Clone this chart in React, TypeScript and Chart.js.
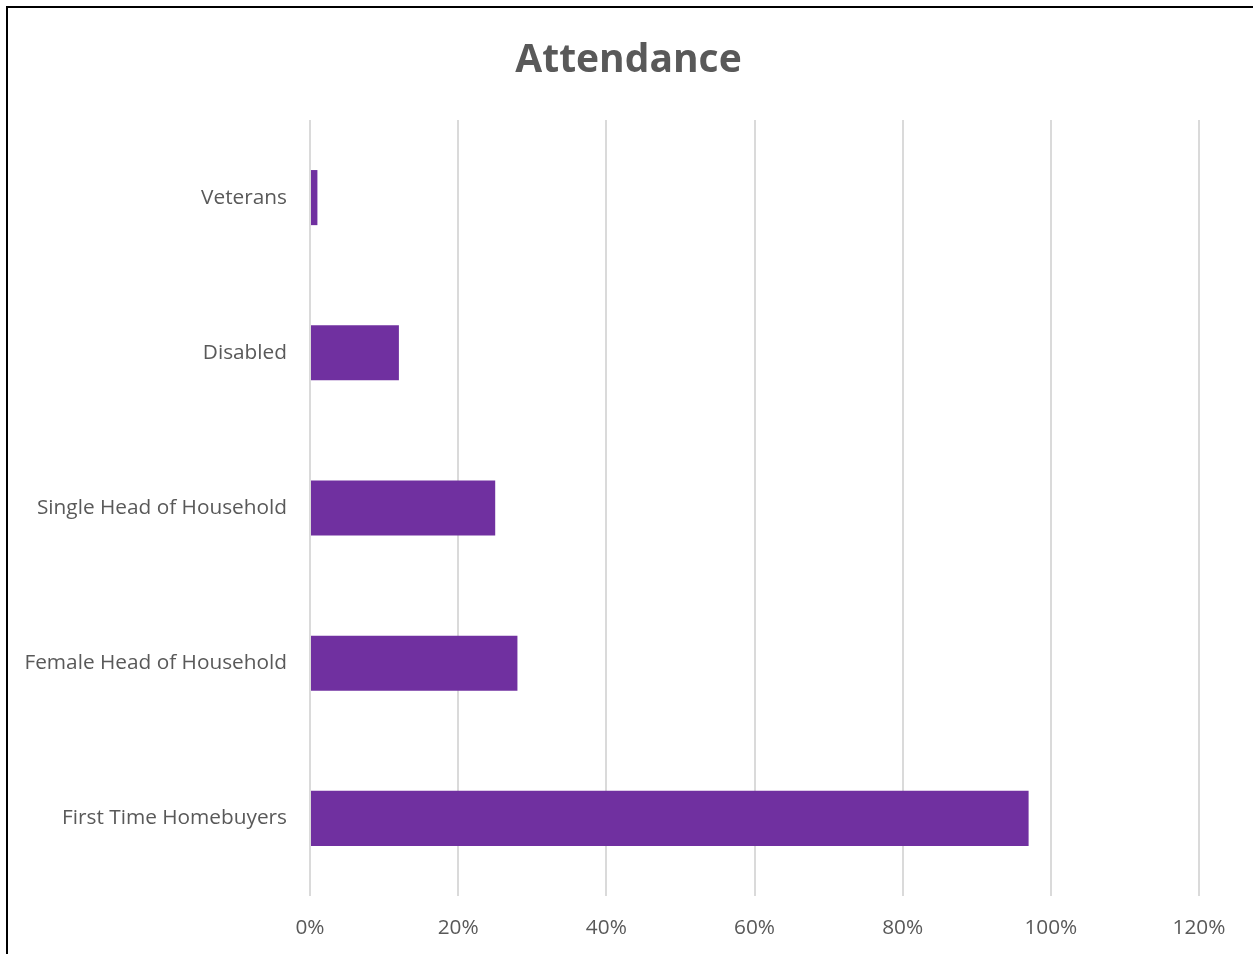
import React, { useEffect, useRef } from "react";
import { Chart, registerables } from "chart.js";

Chart.register(...registerables);

const categories = [
  "Veterans",
  "Disabled",
  "Single Head of Household",
  "Female Head of Household",
  "First Time Homebuyers",
];
const attendance = [1, 12, 25, 28, 97];
const xTicks = [0, 20, 40, 60, 80, 100, 120];

const FONT = "'Open Sans', sans-serif";
const TEXT = "#595959";

// Centre the title over the whole frame instead of the padded area.
const titleCenter = {
  id: "titleCenter",
  afterLayout(chart: any) {
    const t = chart.titleBlock;
    if (t) {
      t.left = 4;
      t.right = chart.width;
      t.width = t.right - t.left;
    }
  },
};

export default function App() {
  const ref = useRef<HTMLCanvasElement | null>(null);

  useEffect(() => {
    document.body.style.margin = "0";
    if (!ref.current) return;
    const chart = new Chart(ref.current, {
      type: "bar",
      data: {
        labels: categories,
        datasets: [
          {
            label: "Attendance",
            data: attendance,
            backgroundColor: "#7030A0",
            borderWidth: 0,
            categoryPercentage: 1,
            barPercentage: 0.355,
          },
        ],
      },
      plugins: [titleCenter],
      options: {
        indexAxis: "y",
        animation: false,
        responsive: false,
        maintainAspectRatio: false,
        layout: { padding: { left: 0, right: 54, top: 0, bottom: 0 } },
        plugins: {
          legend: { display: false },
          tooltip: { enabled: false },
          title: {
            display: true,
            text: "Attendance",
            color: TEXT,
            font: { family: FONT, size: 39, weight: "bold", lineHeight: 1.2 },
            padding: { top: 37, bottom: 36.2 },
          },
        },
        scales: {
          x: {
            min: 0,
            max: 120,
            afterBuildTicks: (scale: any) => {
              scale.ticks = xTicks.map((v) => ({ value: v }));
            },
            afterFit: (scale: any) => {
              scale.height = 58;
            },
            ticks: {
              color: TEXT,
              font: { family: FONT, size: 20.8 },
              padding: 20,
              callback: (v: any) => v + "%",
            },
            grid: { color: "#DADADA", lineWidth: 2, drawTicks: false },
            border: { display: false },
          },
          y: {
            afterFit: (scale: any) => {
              scale.width = 310;
            },
            ticks: {
              color: TEXT,
              font: { family: FONT, size: 20.8 },
              padding: 23,
            },
            grid: { display: false, drawTicks: false },
            border: { display: false },
          },
        },
      },
    });
    return () => chart.destroy();
  }, []);

  return (
    <div style={{ position: "relative", width: 1253, height: 954, background: "#fff" }}>
      <canvas ref={ref} width={1253} height={954} style={{ display: "block" }} />
      <div
        style={{
          position: "absolute",
          left: 6,
          top: 6,
          width: 1245,
          height: 960,
          borderTop: "2px solid #000",
          borderLeft: "2px solid #000",
          pointerEvents: "none",
        }}
      />
    </div>
  );
}
